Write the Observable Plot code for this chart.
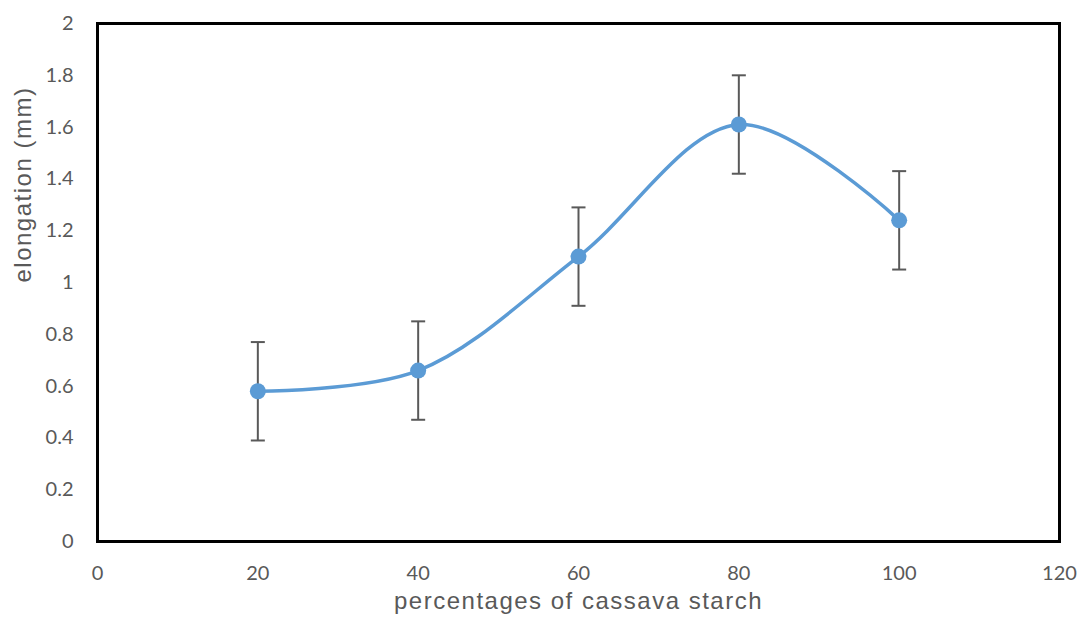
<!DOCTYPE html>
<html>
<head>
<meta charset="utf-8">
<script src="https://cdn.jsdelivr.net/npm/d3@7"></script>
<script src="https://cdn.jsdelivr.net/npm/@observablehq/plot@0.6"></script>
<style>
  html, body { margin: 0; padding: 0; background: #fff; }
  #chart { width: 1083px; height: 624px; }
  .axis-title { letter-spacing: 1.5px; }
</style>
</head>
<body>
<div id="chart"></div>
<script>
const starch = [20, 40, 60, 80, 100];
const elongation = [0.58, 0.66, 1.10, 1.61, 1.24];
const errorBar = [0.19, 0.19, 0.19, 0.19, 0.19];
const xTicks = [0, 20, 40, 60, 80, 100, 120];
const yTicks = [0, 0.2, 0.4, 0.6, 0.8, 1, 1.2, 1.4, 1.6, 1.8, 2];
const xTitle = "percentages of cassava starch";
const yTitle = "elongation (mm)";

const data = starch.map((s, i) => ({x: s, y: elongation[i], lo: elongation[i] - errorBar[i], hi: elongation[i] + errorBar[i]}));

const blue = "#5B9BD5";
const grey = "#595959";
const tickFont = "Lato, 'Open Sans', sans-serif";
const titleFont = "'Liberation Sans', Arial, sans-serif";

// horizontal cap symbol for error bars
const capSymbol = {
  draw(context, size) {
    const w = 7;
    context.moveTo(-w, 0);
    context.lineTo(w, 0);
  }
};

const chart = Plot.plot({
  width: 1083,
  height: 624,
  marginLeft: 97,
  marginRight: 24,
  marginTop: 23,
  marginBottom: 83,
  style: {fontFamily: tickFont, fontSize: "20px", color: grey, background: "transparent"},
  x: {type: "linear", domain: [0, 120], ticks: xTicks, tickSize: 0, tickPadding: 24, label: null, tickFormat: d => String(d)},
  y: {type: "linear", domain: [0, 2], ticks: yTicks, tickSize: 0, tickPadding: 24, label: null, tickFormat: d => String(d)},
  marks: [
    Plot.frame({stroke: "#000", strokeWidth: 3}),
    Plot.link(data, {x1: "x", x2: "x", y1: "lo", y2: "hi", stroke: grey, strokeWidth: 2}),
    Plot.dot(data, {x: "x", y: "lo", symbol: capSymbol, stroke: grey, strokeWidth: 2, fill: "none"}),
    Plot.dot(data, {x: "x", y: "hi", symbol: capSymbol, stroke: grey, strokeWidth: 2, fill: "none"}),
    Plot.line(data, {x: "x", y: "y", curve: "catmull-rom", stroke: blue, strokeWidth: 3.5}),
    Plot.dot(data, {x: "x", y: "y", r: 8, fill: blue, stroke: "none"}),
    Plot.text([xTitle], {frameAnchor: "bottom", dy: 67, fontSize: 24, fill: grey, fontFamily: titleFont}),
    Plot.text([yTitle], {frameAnchor: "left", dx: -74, rotate: -90, fontSize: 24, fill: grey, fontFamily: titleFont})
  ]
});
d3.select(chart).selectAll("text").filter(function() {
  const t = this.textContent;
  return t === xTitle || t === yTitle;
}).attr("class", "axis-title").style("letter-spacing", "1.5px");
document.getElementById("chart").appendChild(chart);
</script>
</body>
</html>
